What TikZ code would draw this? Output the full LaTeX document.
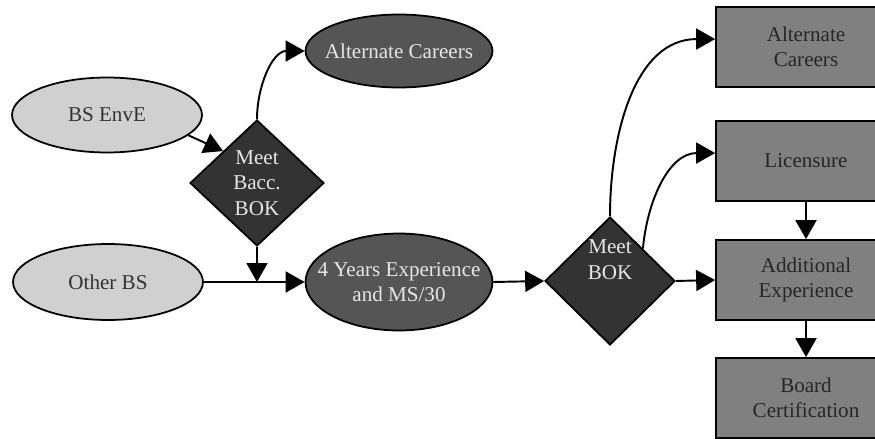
\documentclass[tikz,border=0pt]{standalone}
\usepackage{fontspec}
\setmainfont{Liberation Serif}
\usetikzlibrary{shapes.geometric,arrows.meta}

\definecolor{lightfill}{HTML}{D0D0D0}
\definecolor{darkfill}{HTML}{555555}
\definecolor{diamfill}{HTML}{333333}
\definecolor{boxfill}{HTML}{808080}
\definecolor{darktext}{HTML}{333333}
\definecolor{palefill}{HTML}{E6E6E6}

\tikzset{
    every node/.style={font=\fontsize{12}{14.5}\selectfont, align=center, line width=1pt, inner sep=0pt},
    startnode/.style={ellipse, draw, fill=lightfill, text=darktext, minimum width=3.8cm, minimum height=1.5cm},
    pathnode/.style={ellipse, draw, fill=darkfill, text=palefill, minimum width=3.74cm, inner xsep=-5pt},
    decision/.style={diamond, draw, fill=diamfill, text=palefill},
    outcome/.style={rectangle, draw, fill=boxfill, text=black!85, minimum width=3.6cm, minimum height=1.6cm},
    flow/.style={line width=1.1pt, -{Triangle[length=0.38cm, width=0.42cm]}}
}

\begin{document}
\begin{tikzpicture}[x=0.02cm, y=-0.02cm]
    \useasboundingbox (0,0) rectangle (875,439);
    \clip (0,0) rectangle (875,439);

    % left column
    \node (envE)    [startnode] at (107,115) {BS EnvE};
    \node (otherBS) [startnode, minimum height=1.52cm] at (108,282) {Other BS};
    \node (bacc)    [decision, minimum width=2.68cm, minimum height=2.52cm] at (257,183) {Meet\\Bacc.\\BOK};

    % middle column
    \node (altCar)  [pathnode, minimum height=1.46cm] at (399,51) {Alternate Careers};
    \node (fourYr)  [pathnode, minimum height=1.94cm, inner xsep=-9pt] at (399,282) {4 Years Experience\\and MS/30};
    \node (bok)     [decision, minimum width=2.6cm, minimum height=2.56cm] at (610,281) {Meet\\BOK\\[10pt]};

    % right column
    \node (altBox)   [outcome] at (806,47)  {Alternate\\Careers};
    \node (license)  [outcome] at (806,161) {Licensure};
    \node (addExp)   [outcome] at (806,280) {Additional\\Experience};
    \node (boardCrt) [outcome] at (806,398) {Board\\Certification};

    \coordinate (join) at (bacc.south |- otherBS.east);

    \draw [flow] (envE.-14) -- (bacc.north west);
    \draw [flow] (bacc.north) to[out=90, in=180] (altCar.west);
    \draw [flow] (bacc.south) -- (join);
    \draw [flow] (otherBS.east) -- (fourYr.west);
    \draw [flow] (fourYr.east) -- (bok.west);
    \draw [flow] (bok.east) -- (addExp.west);
    \draw [flow] (bok.north) to[out=90, in=180] (altBox.175);
    \draw [flow] (bok.north east) to[out=85, in=180] (license.175);
    \draw [flow] (license.south) -- (addExp.north);
    \draw [flow] (addExp.south) -- (boardCrt.north);
\end{tikzpicture}
\end{document}
